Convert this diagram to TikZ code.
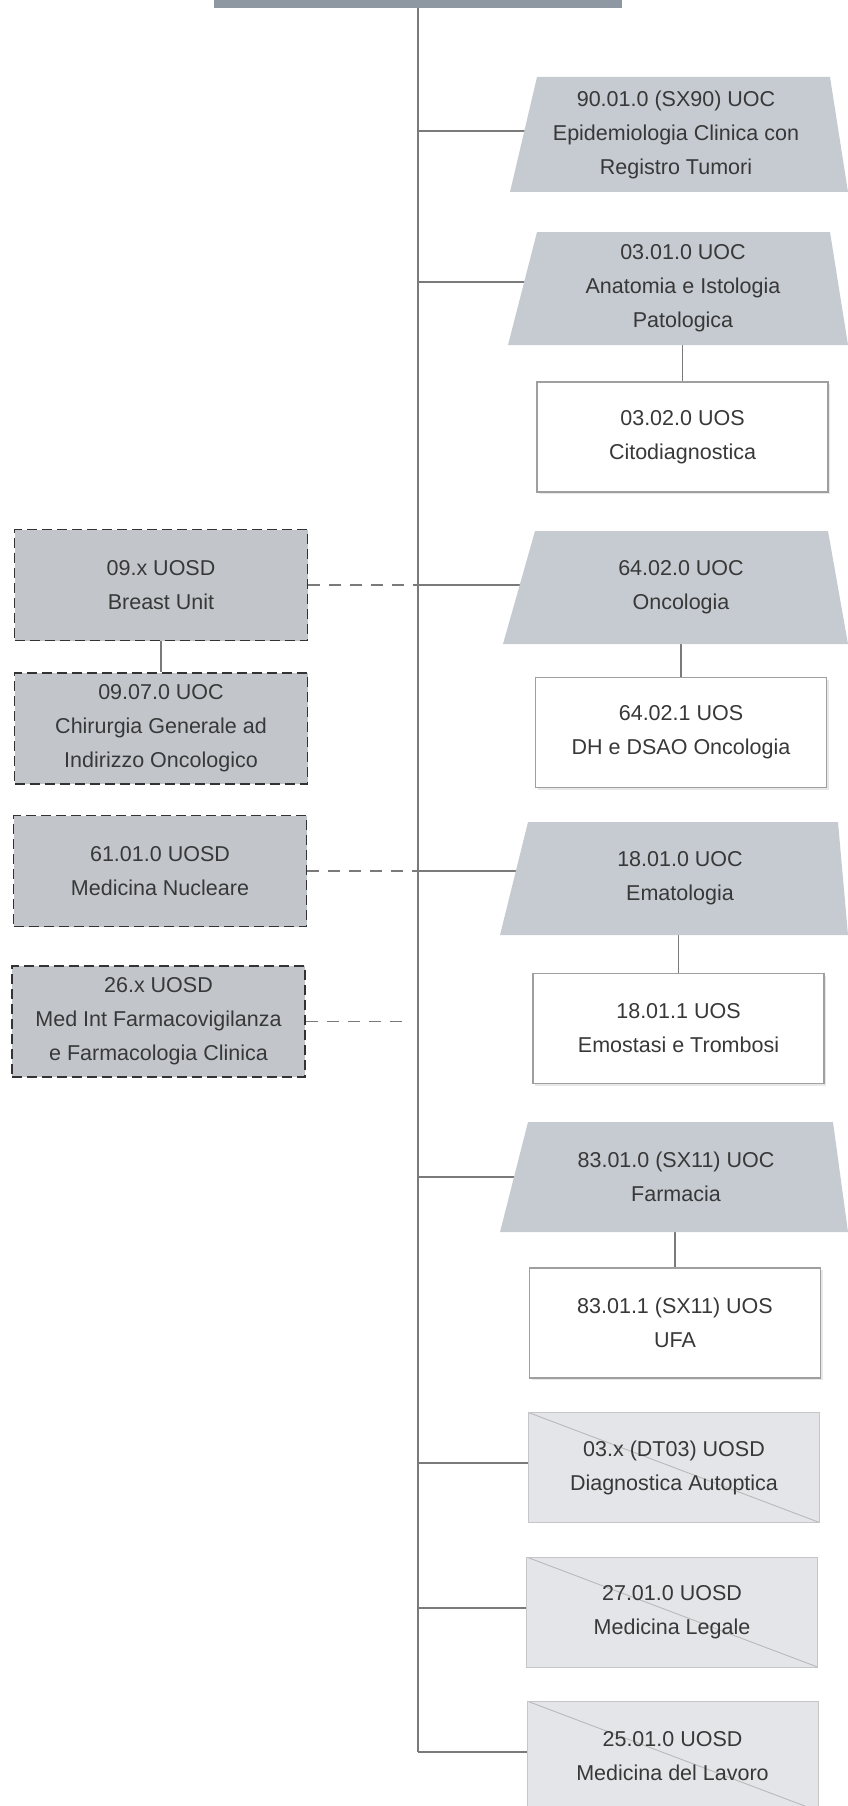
\documentclass[tikz,border=0pt]{standalone}
\usepackage{fontspec}
\setmainfont{Liberation Sans}
\usetikzlibrary{shadows,backgrounds}
\definecolor{trapfill}{HTML}{C6CBD1}
\definecolor{topfill}{HTML}{8E98A3}
\definecolor{extfill}{HTML}{C2C6CB}
\definecolor{uosdfill}{HTML}{E3E5E8}
\definecolor{txt}{HTML}{383838}
\definecolor{linec}{HTML}{7A7A7A}
\newcommand\trapshape[6]{\fill[trapfill] (#1,#2) -- (#3,#2) -- (#4,#5) -- (#6,#5) -- cycle;}
\begin{document}
\begin{tikzpicture}[x=1pt,y=-1pt,
  font=\fontsize{21.5}{34}\selectfont,
  every node/.style={text=txt, align=center, inner sep=0pt},
  traptext/.style={rectangle, minimum width=290pt, minimum height=113pt},
  uos/.style={rectangle, draw=gray!75, line width=1.2pt, fill=white,
    minimum width=291pt, minimum height=110pt,
    drop shadow={shadow xshift=2pt, shadow yshift=-2pt, fill=gray!35}},
  uosd/.style={rectangle, draw=gray!45, line width=1pt, fill=uosdfill,
    minimum width=291pt, minimum height=110pt,
    path picture={\draw[gray!55, line width=0.9pt] (path picture bounding box.north west) -- (path picture bounding box.south east);}},
  ext/.style={rectangle, draw=black!80, line width=1.7pt, dash pattern=on 10pt off 5pt,
    fill=extfill, minimum width=293pt, minimum height=111pt},
  conn/.style={draw=linec, line width=1.3pt},
  dconn/.style={draw=linec, line width=1.3pt, dash pattern=on 12pt off 9pt}
]
\useasboundingbox (0,0) rectangle (848,1806);

% top box
\node[rectangle, fill=topfill, minimum width=408pt, minimum height=38pt] (top) at (418,-11) {};

% trapezoid shapes (UOC)
\trapshape{537}{77}{830}{848}{192}{510}
\trapshape{537}{232}{830}{848}{345}{508}
\trapshape{535}{531}{828}{848}{644}{503}
\trapshape{528}{822}{838}{848}{935}{500}
\trapshape{528}{1122}{833}{848}{1232}{500}

% right column
\node[traptext, minimum height=115pt] (ep) at (676,134.5) {90.01.0 (SX90) UOC\\Epidemiologia Clinica con\\Registro Tumori};
\node[traptext] (an) at (683,288.5) {03.01.0 UOC\\Anatomia e Istologia\\Patologica};
\node[uos] (ci) at (682.5,437) {03.02.0 UOS\\Citodiagnostica};
\node[traptext] (on) at (681,587.5) {64.02.0 UOC\\Oncologia};
\node[uos] (dh) at (681,732.5) {64.02.1 UOS\\DH e DSAO Oncologia};
\node[traptext] (em) at (680,878.5) {18.01.0 UOC\\Ematologia};
\node[uos] (es) at (678.5,1028.5) {18.01.1 UOS\\Emostasi e Trombosi};
\node[traptext, minimum height=110pt] (fa) at (676,1177) {83.01.0 (SX11) UOC\\Farmacia};
\node[uos] (ufa) at (675,1323) {83.01.1 (SX11) UOS\\UFA};
\node[uosd] (da) at (674,1467.5) {03.x (DT03) UOSD\\Diagnostica Autoptica};
\node[uosd] (ml) at (672,1612) {27.01.0 UOSD\\Medicina Legale};
\node[uosd] (lav) at (672.5,1756) {25.01.0 UOSD\\Medicina del Lavoro};

% left column
\node[ext] (bu) at (161,585) {09.x UOSD\\Breast Unit};
\node[ext] (ch) at (161,728.5) {09.07.0 UOC\\Chirurgia Generale ad\\Indirizzo Oncologico};
\node[ext] (mn) at (160,871) {61.01.0 UOSD\\Medicina Nucleare};
\node[ext] (mi) at (158.5,1021.5) {26.x UOSD\\Med Int Farmacovigilanza\\e Farmacologia Clinica};

% trunk junctions
\coordinate (j1) at (418,131);
\coordinate (j2) at (418,282);
\coordinate (j3) at (418,585);
\coordinate (j4) at (418,871);
\coordinate (j5) at (418,1177);
\coordinate (j6) at (418,1463);
\coordinate (j7) at (418,1608);
\coordinate (j8) at (418,1752);
\coordinate (mie) at (405,1021.5);

\begin{pgfonlayer}{background}
  \draw[conn] (top.south) -- (j8);
  \draw[conn] (j1) -- (j1 -| ep.center);
  \draw[conn] (j2) -- (j2 -| an.center);
  \draw[conn] (j3) -- (j3 -| on.center);
  \draw[conn] (j4) -- (j4 -| em.center);
  \draw[conn] (j5) -- (j5 -| fa.center);
  \draw[conn] (j6) -- (j6 -| da.west);
  \draw[conn] (j7) -- (j7 -| ml.west);
  \draw[conn] (j8) -- (j8 -| lav.west);
  \draw[conn] (an.south -| ci.north) -- (ci.north);
  \draw[conn] (on.south -| dh.north) -- (dh.north);
  \draw[conn] (em.south -| es.north) -- (es.north);
  \draw[conn] (fa.south -| ufa.north) -- (ufa.north);
  \draw[conn] (bu.south) -- (ch.north);
  \draw[dconn] (bu.east) -- (j3);
  \draw[dconn] (mn.east) -- (j4);
  \draw[dconn] (mi.east) -- (mie);
\end{pgfonlayer}
\end{tikzpicture}
\end{document}
